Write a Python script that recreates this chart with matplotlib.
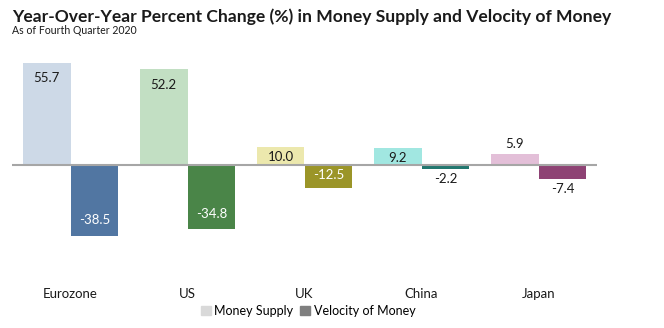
import numpy as np
import matplotlib.pyplot as plt
from matplotlib.patches import Patch

plt.rcParams['font.family'] = ['Lato', 'DejaVu Sans']

# Year-over-year change in money supply and velocity, Q4 2020
regions = ['Eurozone', 'US', 'UK', 'China', 'Japan']
money_supply = [55.7, 52.2, 10.0, 9.2, 5.9]
velocity = [-38.5, -34.8, -12.5, -2.2, -7.4]

light_colors = ['#cdd9e7', '#c2dfc3', '#ece8ad', '#a1e7e1', '#e3bfd8']
dark_colors = ['#5176a2', '#4a8548', '#9b9528', '#22776f', '#8e4274']

fig = plt.figure(figsize=(6.64, 3.28), dpi=100)
ax = fig.add_axes([12 / 664, 53 / 328, 585 / 664, 220 / 328])

x = np.arange(len(regions))
w = 0.41
bars_ms = ax.bar(x - w / 2, money_supply, w, color=light_colors)
bars_v = ax.bar(x + w / 2, velocity, w, color=dark_colors)

ax.axhline(0, color='#a6a6a6', lw=1.5, zorder=3)


def label(bars, values, inside_color):
    for b, v in zip(bars, values):
        xc = b.get_x() + b.get_width() / 2
        sign = 1 if v >= 0 else -1
        if abs(v) >= 8:
            off = -min(11, abs(v) * 0.75) * sign
            col = inside_color
        else:
            off = 7.5 * sign
            col = '#1a1a1a'
        ax.annotate(f'{v:.1f}', (xc, v), xytext=(0, off), textcoords='offset points',
                    ha='center', va='center', fontsize=9.5, color=col)


label(bars_ms, money_supply, '#1a1a1a')
label(bars_v, velocity, 'white')

ax.set_xlim(-0.5, 4.5)
ax.set_ylim(-60, 60)
ax.set_xticks(x)
ax.set_xticklabels(regions, fontsize=9.5, color='#1a1a1a')
ax.tick_params(axis='x', length=0, pad=9)
ax.set_yticks([])
for s in ax.spines.values():
    s.set_visible(False)

fig.text(12 / 664, 1 - 17 / 328, 'Year-Over-Year Percent Change (%) in Money Supply and Velocity of Money',
         fontsize=12.6, fontweight='bold', va='center', color='#1a1a1a')
fig.text(12 / 664, 1 - 31 / 328, 'As of Fourth Quarter 2020', fontsize=7.6, va='center', color='#1a1a1a')

handles = [Patch(color='#d9d9d9', label='Money Supply'),
           Patch(color='#7f7f7f', label='Velocity of Money')]
fig.legend(handles=handles, loc='center', bbox_to_anchor=(308 / 664, 1 - 311 / 328), ncol=2,
           frameon=False, fontsize=9, handlelength=0.8, handleheight=0.8,
           handletextpad=0.3, columnspacing=0.5)

fig.savefig('out.png', dpi=100)
